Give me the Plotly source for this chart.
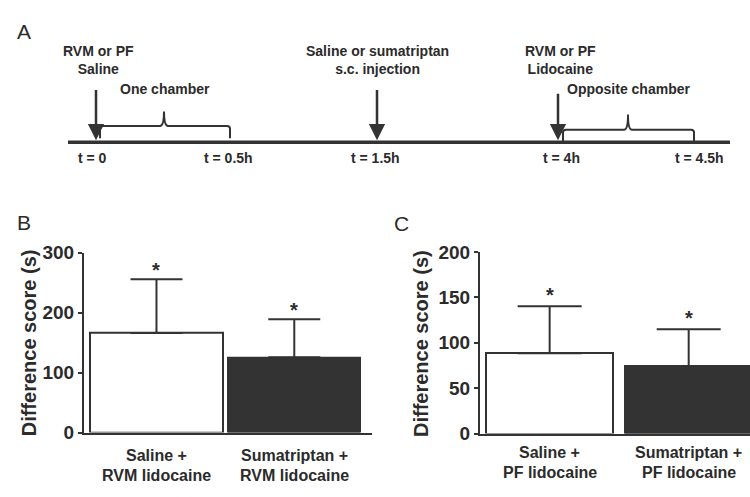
import plotly.graph_objects as go

# ---------------- data ----------------
b_cats_line1 = ["Saline +", "Sumatriptan +"]
b_cats_line2 = ["RVM lidocaine", "RVM lidocaine"]
b_means = [166, 125.5]
b_sem = [90, 63.5]

c_cats_line1 = ["Saline +", "Sumatriptan +"]
c_cats_line2 = ["PF lidocaine", "PF lidocaine"]
c_means = [88.6, 74.5]
c_sem = [51.7, 40.5]

b_ticks = [0, 100, 200, 300]
c_ticks = [0, 50, 100, 150, 200]

bar_colors = ["white", "#333333"]

timeline_times = ["t = 0", "t = 0.5h", "t = 1.5h", "t = 4h", "t = 4.5h"]
event_labels = ["RVM or PF<br>Saline", "Saline or sumatriptan<br>s.c. injection", "RVM or PF<br>Lidocaine"]
phase_labels = ["One chamber", "Opposite chamber"]

# ---------------- schematic layout (panel A, in schematic units) ----------------
time_pos = [92, 228, 375, 561, 699]
event_pos = [98, 377, 560]
arrow_x = [96, 377, 558]
arrow_top = [82, 82, 86]
phase_pos = [165, 628]

FONT = "Liberation Sans, Arial, sans-serif"
INK = "#2b2b2b"
LINE = "#333333"
W, H = 750, 497

fig = go.Figure()

fig.add_trace(go.Bar(
    x=[0, 1], y=b_means, width=0.96,
    marker=dict(color=bar_colors, line=dict(color=LINE, width=2)),
    error_y=dict(type="data", array=b_sem, arrayminus=[0, 0], symmetric=False,
                 color=LINE, thickness=2, width=26),
    xaxis="x", yaxis="y", showlegend=False, hoverinfo="skip"))

fig.add_trace(go.Bar(
    x=[0, 1], y=c_means, width=0.915,
    marker=dict(color=bar_colors, line=dict(color=LINE, width=2)),
    error_y=dict(type="data", array=c_sem, arrayminus=[0, 0], symmetric=False,
                 color=LINE, thickness=2, width=32),
    xaxis="x2", yaxis="y2", showlegend=False, hoverinfo="skip"))

def py(px):
    return 1 - px / H

ax_common = dict(showgrid=False, zeroline=False, showline=True, linecolor=LINE, linewidth=2,
                 ticks="outside", ticklen=4, tickwidth=2, tickcolor=LINE,
                 tickfont=dict(family=FONT, size=19, color=INK, weight="bold"))

fig.update_layout(
    width=W, height=H, margin=dict(l=0, r=0, t=0, b=0),
    paper_bgcolor="white", plot_bgcolor="rgba(0,0,0,0)",
    bargap=0,
    xaxis=dict(domain=[84 / W, 372 / W], range=[-0.526, 1.564], showgrid=False, zeroline=False,
               showline=True, linecolor=LINE, linewidth=2, showticklabels=False, ticks="",
               anchor="y"),
    yaxis=dict(domain=[py(441.2), py(253.5)], range=[0, 300], tickvals=b_ticks, anchor="x",
               **ax_common),
    xaxis2=dict(domain=[480 / W, 1.0], range=[-0.501, 1.441], showgrid=False, zeroline=False,
                showline=True, linecolor=LINE, linewidth=2, showticklabels=False, ticks="",
                anchor="y2"),
    yaxis2=dict(domain=[py(442.3), py(252.7)], range=[0, 200], tickvals=c_ticks, anchor="x2",
                **ax_common),
    xaxis3=dict(domain=[0, 1], range=[0, 750], visible=False, anchor="y3", fixedrange=True),
    yaxis3=dict(domain=[py(170), 1], range=[170, 0], visible=False, anchor="x3", fixedrange=True),
)

ann = []
shapes = []
C = dict(xanchor="center", yanchor="middle", showarrow=False)

# ---- panel A ----
ann.append(dict(text="A", x=23.5, y=22, xref="x3", yref="y3",
                font=dict(family=FONT, size=21, color=INK), **C))
shapes.append(dict(type="line", xref="x3", yref="y3", x0=68, x1=730, y0=138, y1=138,
                   line=dict(color=LINE, width=3.5)))
for t, xp in zip(timeline_times, time_pos):
    ann.append(dict(text=t, x=xp, y=155, xref="x3", yref="y3",
                    font=dict(family=FONT, size=14, color=INK, weight="bold"), **C))
for t, xp in zip(event_labels, event_pos):
    ann.append(dict(text=t, x=xp, y=52, xref="x3", yref="y3",
                    font=dict(family=FONT, size=14, color=INK, weight="bold"), **C))
for t, xp in zip(phase_labels, phase_pos):
    ann.append(dict(text=t, x=xp, y=82, xref="x3", yref="y3",
                    font=dict(family=FONT, size=14, color=INK, weight="bold"), **C))
for xa, yt in zip(arrow_x, arrow_top):
    ann.append(dict(text="", x=xa, y=136, ax=xa, ay=yt, xref="x3", yref="y3",
                    axref="x3", ayref="y3", showarrow=True, arrowhead=2, arrowsize=1.3,
                    arrowwidth=2.5, arrowcolor=LINE, standoff=0, startstandoff=0))

def bracket(x0, x1, xm, ytop, ybot, ytip):
    r = 3
    return (f"M{x0},{ybot} L{x0},{ytop + r} Q{x0},{ytop} {x0 + r},{ytop} "
            f"L{xm - 4},{ytop} Q{xm},{ytop} {xm},{ytip} Q{xm},{ytop} {xm + 4},{ytop} "
            f"L{x1 - r},{ytop} Q{x1},{ytop} {x1},{ytop + r} L{x1},{ybot}")

shapes.append(dict(type="path", xref="x3", yref="y3", path=bracket(100, 230, 164, 121, 134, 106),
                   line=dict(color=LINE, width=2)))
shapes.append(dict(type="path", xref="x3", yref="y3", path=bracket(563, 694, 628, 125, 137, 109),
                   line=dict(color=LINE, width=2)))

# ---- panel letters ----
ann.append(dict(text="B", x=24.5 / W, y=py(222), xref="paper", yref="paper",
                font=dict(family=FONT, size=21, color=INK), **C))
ann.append(dict(text="C", x=401.5 / W, y=py(222.5), xref="paper", yref="paper",
                font=dict(family=FONT, size=21, color=INK), **C))

# ---- y titles ----
for xc in (29, 421.7):
    ann.append(dict(text="Difference score (s)", x=xc / W, y=py(348), xref="paper", yref="paper",
                    textangle=-90,
                    font=dict(family=FONT, size=20, color=INK, weight="bold"), **C))

# ---- category labels ----
lab_font = dict(family=FONT, size=16, color=INK, weight="bold")
for i in range(2):
    ann.append(dict(text=b_cats_line1[i], x=i, y=py(465.5), xref="x", yref="paper", font=lab_font, **C))
    ann.append(dict(text=b_cats_line2[i], x=i, y=py(486.5), xref="x", yref="paper", font=lab_font, **C))
    ann.append(dict(text=c_cats_line1[i], x=i, y=py(461.5), xref="x2", yref="paper", font=lab_font, **C))
    ann.append(dict(text=c_cats_line2[i], x=i, y=py(482.5), xref="x2", yref="paper", font=lab_font, **C))

# ---- significance stars ----
star_font = dict(family=FONT, size=20, color=INK, weight="bold")
for i in range(2):
    ann.append(dict(text="*", x=i, y=b_means[i] + b_sem[i], xref="x", yref="y", yanchor="bottom",
                    xanchor="center", showarrow=False, yshift=-4, font=star_font))
    ann.append(dict(text="*", x=i, y=c_means[i] + c_sem[i], xref="x2", yref="y2", yanchor="bottom",
                    xanchor="center", showarrow=False, yshift=-2, font=star_font))

fig.update_layout(annotations=ann, shapes=shapes)
fig.write_html("out.html", post_script="document.body.style.margin='0';",
               config={"displayModeBar": False})
